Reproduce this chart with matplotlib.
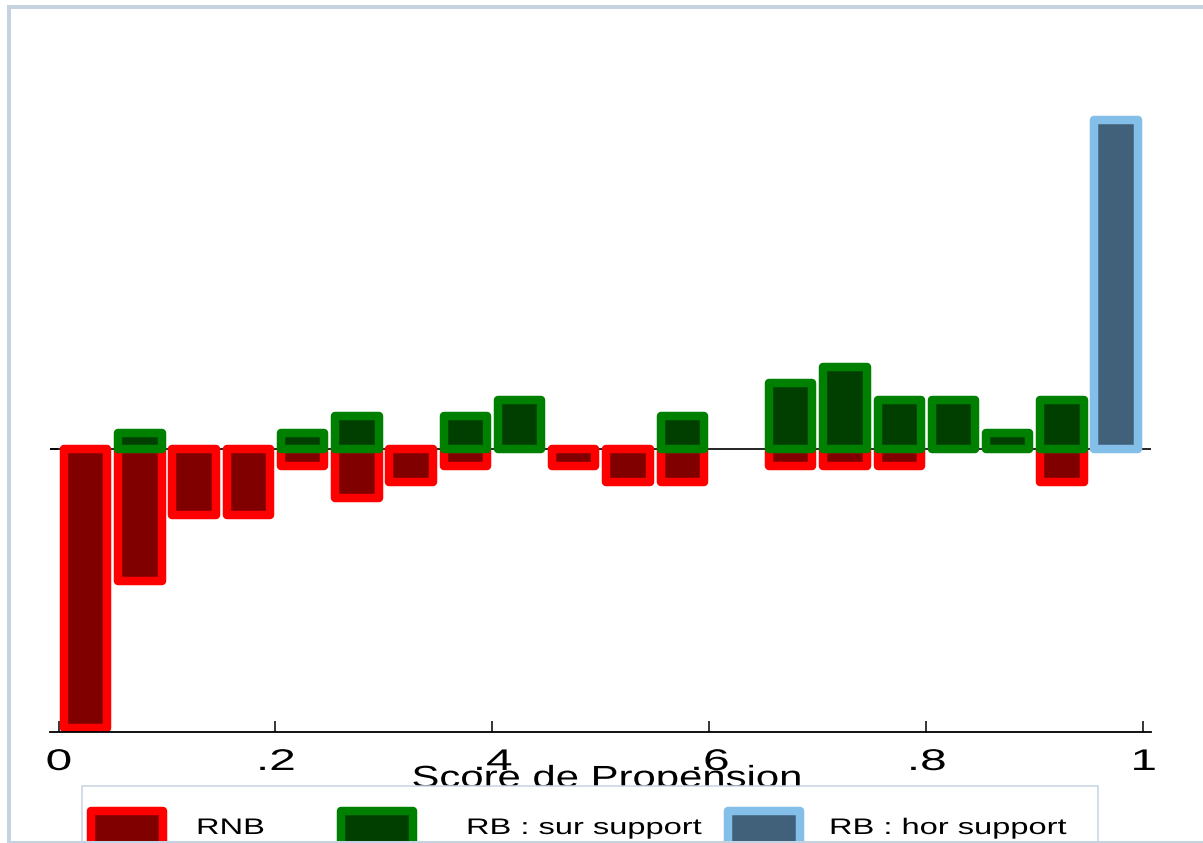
import numpy as np
import matplotlib
matplotlib.use("Agg")
from matplotlib import pyplot as plt
from matplotlib.patches import Rectangle
from matplotlib.patheffects import AbstractPathEffect
from matplotlib.transforms import Affine2D

plt.rcParams["font.family"] = ["Liberation Sans", "DejaVu Sans"]

# propensity score bins (width .05) and counts per group
bin_centers = np.arange(0.025, 1.0, 0.05)
rnb_counts = [17, 8, 4, 4, 1, 3, 2, 1, 0, 1, 2, 2, 0, 1, 1, 1, 0, 0, 2, 0]
rb_on_counts = [0, 1, 0, 0, 1, 2, 0, 2, 3, 0, 0, 2, 0, 4, 5, 3, 3, 1, 3, 0]
rb_off_counts = [0] * 19 + [20]

tick_values = [0, 0.2, 0.4, 0.6, 0.8, 1]
tick_labels = ["0", ".2", ".4", ".6", ".8", "1"]
legend_labels = ["RNB", "RB : sur support", "RB : hor support"]
x_title = "Score de Propension"

W, H = 1203, 843
BORDER = "#c5d2df"
styles = [
    dict(facecolor="#800000", edgecolor="#ff0000"),
    dict(facecolor="#003f00", edgecolor="#008000"),
    dict(facecolor="#41607a", edgecolor="#84bfe9"),
]
BAR_LW = 6.1


class HStretch(AbstractPathEffect):
    """Widen glyphs horizontally, around their centre or their left origin."""

    def __init__(self, sx, anchor="center"):
        super().__init__()
        self.sx = sx
        self.anchor = anchor

    def draw_path(self, renderer, gc, tpath, affine, rgbFace=None):
        if self.anchor == "center":
            v = affine.transform(tpath.vertices)
            x0 = (v[:, 0].min() + v[:, 0].max()) / 2 if len(v) else 0
        else:
            x0 = affine.get_matrix()[0, 2]
        t = affine + Affine2D().translate(-x0, 0).scale(self.sx, 1).translate(x0, 0)
        renderer.draw_path(gc, tpath, t, rgbFace)


def fx(x):
    return x / W


def fy(y):
    return 1 - y / H


fig = plt.figure(figsize=(W / 100, H / 100), dpi=100)

# axes box in pixels: x 50..1151, y 100..732
ax = fig.add_axes([fx(50), fy(732), (1151 - 50) / W, (732 - 100) / H])
unit = 16.43
y_lo = -17.22
ax.set_ylim(y_lo, y_lo + (732 - 100) / unit)
ax.set_xlim(-8.5 / 1084.8, (1151 - 58.5) / 1084.8)

ax.axhline(0, color="black", lw=1.2, zorder=1)

groups = [-np.array(rnb_counts), np.array(rb_on_counts), np.array(rb_off_counts)]
for z, (vals, st) in enumerate(zip(groups, styles)):
    m = vals != 0
    ax.bar(bin_centers[m], vals[m], width=0.04, linewidth=BAR_LW,
           joinstyle="round", zorder=2 + z, **st)

for s in ("left", "top", "right"):
    ax.spines[s].set_visible(False)
ax.spines["bottom"].set_linewidth(1.3)

ax.set_xticks(tick_values)
ax.set_xticklabels(tick_labels, fontsize=21.5)
for lbl in ax.get_xticklabels():
    lbl.set_path_effects([HStretch(1.6)])
ax.tick_params(axis="x", direction="in", length=8, width=1.1, pad=11.5)
ax.set_yticks([0])
ax.tick_params(axis="y", direction="in", length=6, width=1.1, labelleft=False)

ax.set_xlabel(x_title, fontsize=22, va="baseline")
ax.xaxis.set_label_coords((606 - 50) / 1101, (732 - 787) / 632)
ax.xaxis.label.set_path_effects([HStretch(1.37)])

# legend panel along the bottom
fig.patches.append(Rectangle((fx(81.7), fy(870)), (1098 - 81.7) / W, (870 - 786) / H,
                             transform=fig.transFigure, facecolor="white",
                             edgecolor="#c8d5e1", lw=1.1, zorder=2))
key_x = [91, 341, 728]
text_x = [196, 466, 829]
for kx, tx, lab, st in zip(key_x, text_x, legend_labels, styles):
    fig.patches.append(Rectangle((fx(kx), fy(880)), 72 / W, (880 - 811) / H,
                                 transform=fig.transFigure, lw=BAR_LW,
                                 joinstyle="round", zorder=3, **st))
    t = fig.text(fx(tx), fy(834), lab, fontsize=16.2, ha="left", va="baseline",
                 zorder=4)
    t.set_path_effects([HStretch(1.45, anchor="left")])

# outer graph region frame
fig.patches.append(Rectangle((fx(9), fy(843)), (1240 - 9) / W, (843 - 7) / H,
                             transform=fig.transFigure, facecolor="none",
                             edgecolor=BORDER, lw=2.9, zorder=5))

fig.savefig("out.png", dpi=100)
